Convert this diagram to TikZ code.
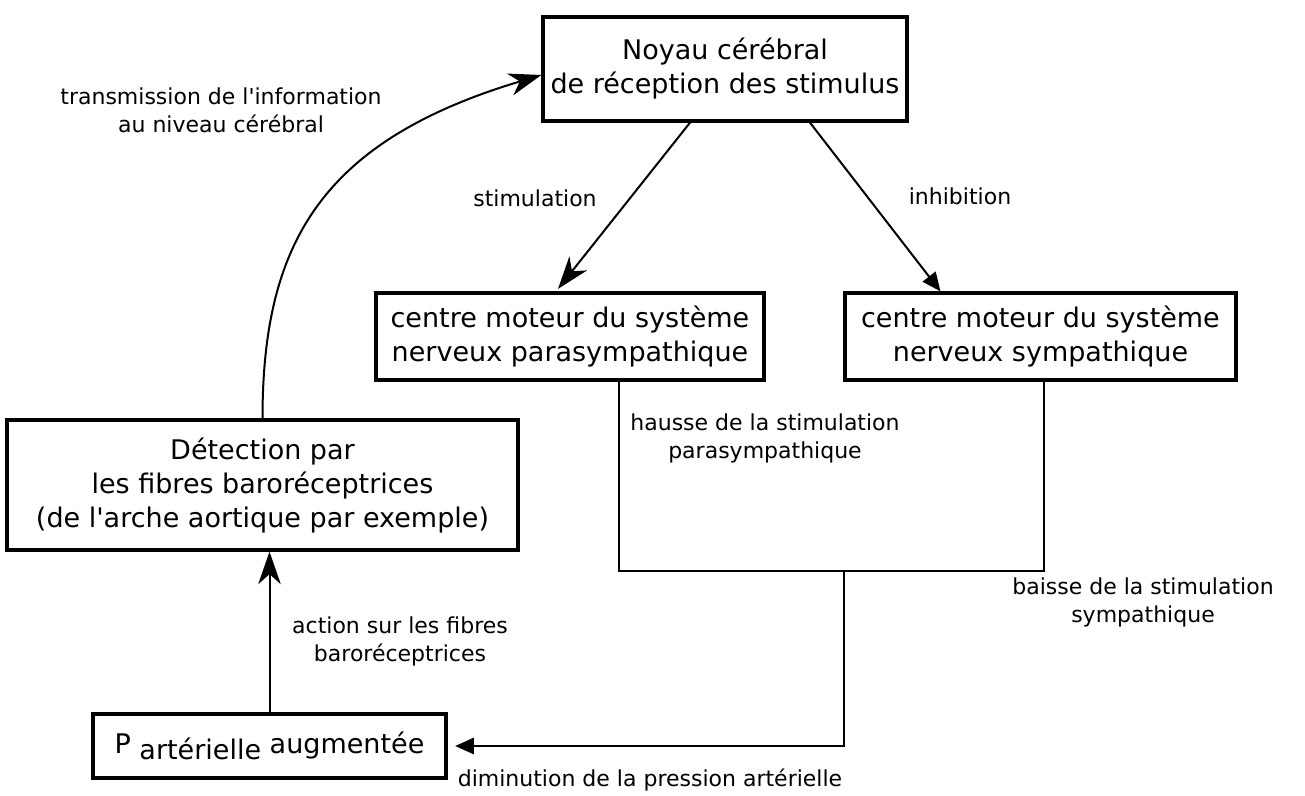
\documentclass[tikz,border=0pt]{standalone}
\usepackage{fontspec}
\setmainfont{DejaVu Sans}[Ligatures=TeXOff]
\usetikzlibrary{arrows.meta}

\tikzset{
  boite/.style={draw, line width=1.3pt, align=center, inner sep=0pt,
    font=\fontsize{10.8}{13.6}\selectfont},
  legende/.style={align=center, font=\fontsize{8.8}{11.2}\selectfont},
  lien/.style={line width=0.8pt},
  pointe/.style={-{Stealth[length=13pt, width=9pt, inset=4pt]}},
  triangle/.style={-{Triangle[length=7.5pt, width=6.5pt]}}
}

\begin{document}
\begin{tikzpicture}[x=0.4pt, y=-0.4pt]
  \useasboundingbox (0,0) rectangle (1305,795);

  \node[boite, minimum width=145.6pt, minimum height=41.6pt] (noyau) at (725,69)
    {Noyau cérébral\\de réception des stimulus};
  \node[boite, minimum width=155.2pt, minimum height=34.8pt] (para) at (570,336.5)
    {centre moteur du système\\nerveux parasympathique};
  \node[boite, minimum width=156.4pt, minimum height=34.8pt] (symp) at (1040.5,336.5)
    {centre moteur du système\\nerveux sympathique};
  \node[boite, minimum width=204.4pt, minimum height=52pt] (detect) at (262.5,485)
    {Détection par\\les fibres baroréceptrices\\(de l'arche aortique par exemple)};
  \node[boite, minimum width=141.2pt, minimum height=25.6pt] (pression) at (269.5,746)
    {P \raisebox{-2.4pt}{artérielle} augmentée};

  \node[legende] (transmission) at (221,110) {transmission de l'information\\au niveau cérébral};
  \node[legende] (stimulation) at (535,198) {stimulation};
  \node[legende] (inhibition) at (960,196) {inhibition};
  \node[legende] (hausse) at (765,438) {hausse de la stimulation\\parasympathique};
  \node[legende] (baisse) at (1143,602) {baisse de la stimulation\\sympathique};
  \node[legende] (action) at (400,641) {action sur les fibres\\baroréceptrices};
  \node[legende] (diminution) at (650,780) {diminution de la pression artérielle};

  \coordinate (jonction) at (844,571);

  \draw[lien, pointe] ([xshift=-14pt]noyau.south) -- ([xshift=-4.8pt, yshift=1pt]para.north);
  \draw[lien, triangle] ([xshift=34pt]noyau.south) -- ([xshift=-40pt]symp.north);
  \draw[lien, pointe] (detect.north) .. controls +(0,-175) and +(-220,66) .. ([yshift=-2.4pt]noyau.west);
  \draw[lien, pointe] (pression.north) -- (pression.north |- detect.south);
  \draw[lien] ([xshift=19.6pt]para.south) |- (jonction) -| ([xshift=1.4pt]symp.south);
  \draw[lien, triangle, shorten >=3pt] (jonction) |- (pression.east);
\end{tikzpicture}
\end{document}
